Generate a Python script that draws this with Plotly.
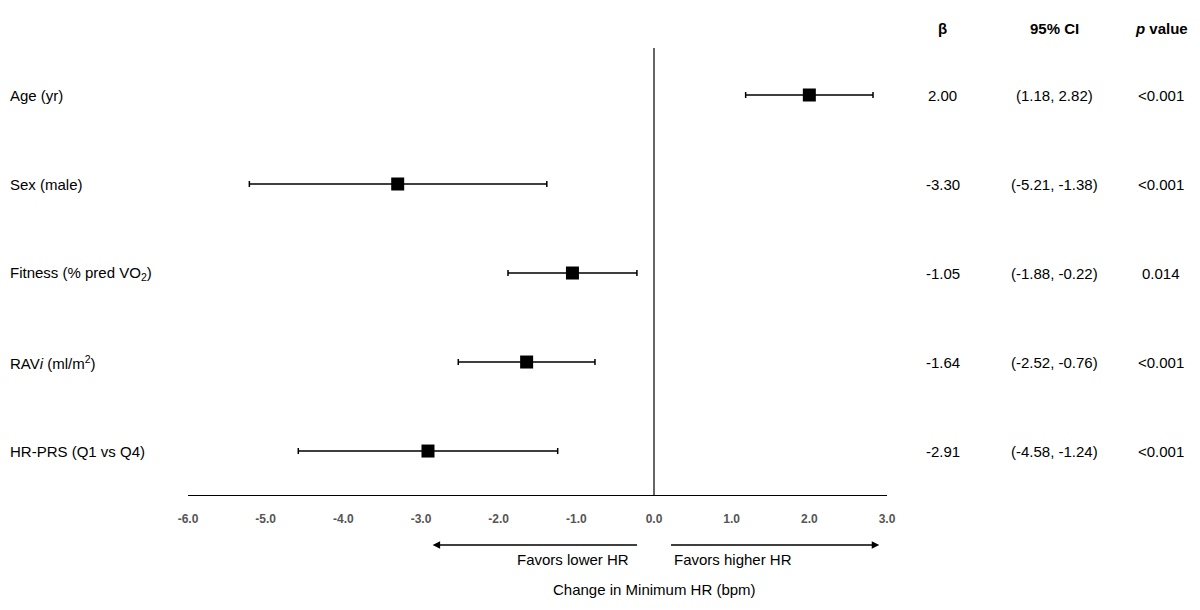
import plotly.graph_objects as go

labels = ['Age (yr)', 'Sex (male)', 'Fitness (% pred VO<sub>2</sub>)',
          'RAV<i>i</i> (ml/m<sup>2</sup>)', 'HR-PRS (Q1 vs Q4)']
beta = [2.00, -3.30, -1.05, -1.64, -2.91]
lower = [1.18, -5.21, -1.88, -2.52, -4.58]
upper = [2.82, -1.38, -0.22, -0.76, -1.24]
p_values = ['<0.001', '<0.001', '0.014', '<0.001', '<0.001']
tick_vals = [-6, -5, -4, -3, -2, -1, 0, 1, 2, 3]

rows = [5, 4, 3, 2, 1]
font = 'Liberation Sans, Arial, sans-serif'

fig = go.Figure()
fig.add_trace(go.Scatter(
    x=beta, y=rows, mode='markers',
    marker=dict(symbol='square', size=13, color='black'),
    error_x=dict(type='data', symmetric=False,
                 array=[u - b for u, b in zip(upper, beta)],
                 arrayminus=[b - l for l, b in zip(lower, beta)],
                 color='black', thickness=1.5, width=3),
    showlegend=False, cliponaxis=False
))

fig.add_shape(type='line', x0=0, x1=0, y0=0, y1=1, xref='x', yref='paper',
              line=dict(color='black', width=1.2))

ann = []
for r, lab, b, lo, up, p in zip(rows, labels, beta, lower, upper, p_values):
    ann.append(dict(x=-0.2575, xref='paper', y=r, yref='y', text=lab,
                    xanchor='left', showarrow=False, font=dict(size=15)))
    ann.append(dict(x=1.080, xref='paper', y=r, yref='y', text=f'{b:.2f}',
                    xanchor='center', showarrow=False, font=dict(size=15)))
    ann.append(dict(x=1.239, xref='paper', y=r, yref='y', text=f'({lo:.2f}, {up:.2f})',
                    xanchor='center', showarrow=False, font=dict(size=15)))
    ann.append(dict(x=1.392, xref='paper', y=r, yref='y', text=p,
                    xanchor='center', showarrow=False, font=dict(size=15)))

for x, t in [(1.080, '<b>β</b>'), (1.239, '<b>95% CI</b>'), (1.392, '<b><i>p</i> value</b>')]:
    ann.append(dict(x=x, xref='paper', y=1.067, yref='paper', text=t,
                    xanchor='center', showarrow=False, font=dict(size=15)))

# direction arrows
ann.append(dict(x=-2.85, y=-0.112, ax=-0.2, ay=0, xref='x', yref='paper',
                axref='x', ayref='pixel', text='', showarrow=True,
                arrowhead=2, arrowsize=1, arrowwidth=1.5, arrowcolor='black'))
ann.append(dict(x=2.9, y=-0.112, ax=0.2, ay=0, xref='x', yref='paper',
                axref='x', ayref='pixel', text='', showarrow=True,
                arrowhead=2, arrowsize=1, arrowwidth=1.5, arrowcolor='black'))
ann.append(dict(x=-0.3, y=-0.168, xref='x', yref='paper', text='Favors lower HR',
                xanchor='right', showarrow=False, font=dict(size=15)))
ann.append(dict(x=0.23, y=-0.168, xref='x', yref='paper', text='Favors higher HR',
                xanchor='left', showarrow=False, font=dict(size=15)))
ann.append(dict(x=0, y=-0.235, xref='x', yref='paper', text='Change in Minimum HR (bpm)',
                xanchor='center', showarrow=False, font=dict(size=15)))

fig.update_layout(
    width=1200, height=610,
    margin=dict(l=180, r=321, t=40, b=123),
    plot_bgcolor='white', paper_bgcolor='white',
    font=dict(family=font, color='black', size=15),
    annotations=ann,
    xaxis=dict(range=[-6, 3], tickvals=tick_vals,
               ticktext=[f'{v:.1f}' for v in tick_vals],
               tickfont=dict(size=12, color='#555555', family=font, weight='bold'),
               showgrid=False, zeroline=False, showline=True,
               linecolor='black', linewidth=1.2, ticks='', ticklabelstandoff=12),
    yaxis=dict(range=[0.506, 5.528], visible=False, showgrid=False, zeroline=False),
)

fig.write_html('out.html')
